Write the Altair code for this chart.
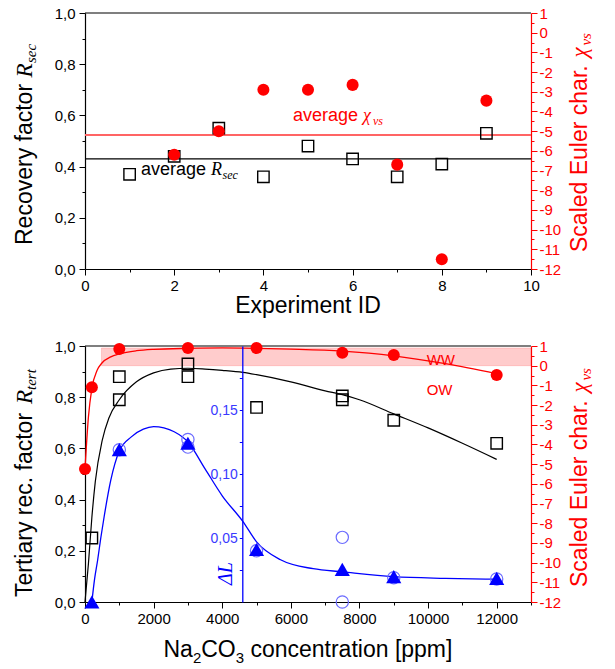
import altair as alt
import pandas as pd

SANS = "Liberation Sans"
SERIF = "Liberation Serif"
RED = "#ff0000"
BLUE = "#0000ff"
LBLUE = "#6b6bff"
W, H = 446, 256

# ---------------- top panel data ----------------
exp_id = [1, 2, 3, 4, 5, 6, 7, 8, 9]
r_sec = [0.37, 0.44, 0.55, 0.36, 0.48, 0.43, 0.36, 0.41, 0.53]
chi_id = [2, 3, 4, 5, 6, 7, 8, 9]
chi_sec = [-6.2, -5.0, -2.9, -2.9, -2.65, -6.7, -11.5, -3.45]
avg_r_sec = [0.43]
avg_chi = [-5.2]

# ---------------- bottom panel data ----------------
sq_ppm = [200, 1000, 1000, 3000, 3000, 5000, 7500, 7500, 9000, 12000]
r_tert = [0.25, 0.79, 0.88, 0.88, 0.93, 0.76, 0.805, 0.79, 0.71, 0.62]
chi_ppm = [0, 200, 1000, 3000, 5000, 7500, 9000, 12000]
chi_tert = [-5.25, -1.1, 0.85, 0.9, 0.9, 0.66, 0.54, -0.47]
tri_ppm = [200, 1000, 3000, 5000, 7500, 9000, 12000]
dl_tri = [0.0, 0.119, 0.124, 0.041, 0.0255, 0.0198, 0.0185]
circ_ppm = [1000, 3000, 3000, 5000, 7500, 7500, 9000, 12000]
dl_circ = [0.119, 0.127, 0.121, 0.040, 0.0505, 0.0, 0.019, 0.018]

fit_red_ppm = [0, 100, 200, 350, 500, 750, 1000, 1500, 2000, 3000, 4000, 5000,
               6000, 7500, 9000, 10500, 12000]
fit_red_chi = [-5.25, -2.6, -1.15, -0.25, 0.15, 0.45, 0.6, 0.76, 0.83, 0.88, 0.9,
               0.88, 0.84, 0.74, 0.5, 0.1, -0.4]
fit_black_ppm = [0, 100, 200, 300, 500, 700, 1000, 1500, 2000, 2500, 3000, 3500,
                 4000, 4600, 5000, 6000, 7000, 7500, 8000, 9000, 10000, 11000, 12000]
fit_black_r = [0.0, 0.15, 0.33, 0.47, 0.63, 0.72, 0.79, 0.86, 0.895, 0.91, 0.913,
               0.91, 0.905, 0.897, 0.888, 0.86, 0.825, 0.81, 0.79, 0.735, 0.68, 0.62, 0.557]
fit_blue_ppm = [200, 280, 370, 460, 560, 750, 1000, 1350, 1700, 2000, 2300, 2600,
                3000, 3500, 4000, 4600, 5000, 5700, 6650, 7500, 9000, 10500, 12000]
fit_blue_dl = [0.0, 0.018, 0.033, 0.05, 0.067, 0.095, 0.118, 0.129, 0.135, 0.137,
               0.136, 0.133, 0.125, 0.104, 0.083, 0.063, 0.047, 0.033, 0.026, 0.0236,
               0.0198, 0.0185, 0.0178]
band_ppm = [480, 13000]
band_chi = [0.0, 0.9]

# tick values
x_top_ticks = [0, 1, 2, 3, 4, 5, 6, 7, 8, 9, 10]
x_bot_ticks = [0, 1000, 2000, 3000, 4000, 5000, 6000, 7000, 8000, 9000, 10000,
               11000, 12000, 13000]
r_ticks = [0.0, 0.1, 0.2, 0.3, 0.4, 0.5, 0.6, 0.7, 0.8, 0.9, 1.0]
chi_ticks = [v / 2 for v in range(-24, 3)]
dl_ticks = [0.025, 0.05, 0.075, 0.1, 0.125, 0.15, 0.175]

DUMMY = pd.DataFrame({"k": [0]})


def sc(d):
    return alt.Scale(domain=d, nice=False, zero=False)


def tcond(test, major=6, minor=3):
    return {"condition": {"test": test, "value": major}, "value": minor}


def ax(**kw):
    d = dict(title=None, grid=False, labelFont=SANS, labelFontSize=15,
             labelOverlap=False, labelFlush=False, tickWidth=1, domainWidth=1.2)
    d.update(kw)
    return alt.Axis(**d)


LEFT_EXPR = ("round(datum.value*10) % 2 == 0 ? "
             "replace(format(datum.value, '.1f'), '.', ',') : ''")
RIGHT_EXPR = "datum.value == floor(datum.value) ? '' + datum.value : ''"

ax_left = ax(orient="left", values=r_ticks, labelExpr=LEFT_EXPR,
             tickSize=tcond("round(datum.value*10) % 2 == 0"), labelPadding=4,
             domainColor="black", tickColor="black", labelColor="black")
ax_right = ax(orient="right", values=chi_ticks, labelExpr=RIGHT_EXPR,
              tickSize=tcond("datum.value == floor(datum.value)"), labelPadding=2,
              domainColor=RED, tickColor=RED, labelColor=RED)
ax_x_top = ax(orient="bottom", values=x_top_ticks,
              labelExpr="datum.value % 2 == 0 ? '' + datum.value : ''",
              tickSize=tcond("datum.value % 2 == 0"), labelPadding=3,
              domainColor="black", tickColor="black", labelColor="black")
ax_x_bot = ax(orient="bottom", values=x_bot_ticks,
              labelExpr="datum.value % 2000 == 0 ? '' + datum.value : ''",
              tickSize=tcond("datum.value % 2000 == 0"), labelPadding=3,
              domainColor="black", tickColor="black", labelColor="black")
ax_dl = ax(orient="left", values=dl_ticks, offset=-157.3,
           labelExpr=("round(datum.value*40) % 2 == 0 ? "
                      "replace(format(datum.value, '.2f'), '.', ',') : ''"),
           tickSize=3, labelPadding=2, labelFontSize=14, domainColor=BLUE,
           tickColor=BLUE, labelColor="#3a3aff", domainWidth=1.3, zindex=1)


def txt(s, x, y, size, color, font=SANS, style="normal", angle=0,
        align="left", baseline="alphabetic"):
    kw = dict(text=s, font=font, fontSize=size, fontStyle=style, color=color,
              align=align, baseline=baseline)
    if angle:
        kw["angle"] = angle
    return alt.Chart(DUMMY).mark_text(**kw).encode(x=alt.value(x), y=alt.value(y))


def anchor(y1, y2):
    return alt.Chart(DUMMY).mark_rule(opacity=0, strokeOpacity=0).encode(
        x=alt.value(-85), x2=alt.value(-85), y=alt.value(y1), y2=alt.value(y2))


def border():
    return alt.Chart(DUMMY).mark_rule(color="black", strokeWidth=1.2).encode(
        x=alt.value(0), x2=alt.value(W), y=alt.value(0))


# ================= TOP PANEL =================
XT = [0, 10]
RD = [0, 1]
CD = [-12, 1]

df_sq = pd.DataFrame({"id": exp_id, "r": r_sec})
df_ci = pd.DataFrame({"id": chi_id, "c": chi_sec})

t_avg_r = alt.Chart(pd.DataFrame({"v": avg_r_sec})).mark_rule(
    color="black", strokeWidth=1.2).encode(
    y=alt.Y("v:Q", scale=sc(RD), axis=ax_left))
t_avg_c = alt.Chart(pd.DataFrame({"v": avg_chi})).mark_rule(
    color="#ff6464", strokeWidth=2).encode(
    y=alt.Y("v:Q", scale=sc(CD), axis=ax_right))
t_sq = alt.Chart(df_sq).mark_point(shape="square", filled=False, size=130,
                                   color="black", strokeWidth=1.4, opacity=1).encode(
    x=alt.X("id:Q", scale=sc(XT), axis=ax_x_top),
    y=alt.Y("r:Q", scale=sc(RD), axis=None))
t_ci = alt.Chart(df_ci).mark_circle(size=145, color=RED, opacity=1).encode(
    x=alt.X("id:Q", scale=sc(XT), axis=None),
    y=alt.Y("c:Q", scale=sc(CD), axis=None))

top_texts = [
    txt("Recovery factor", -53.5, 232, 23, "black", angle=270),
    txt("R", -53.5, 64.6, 23, "black", SERIF, "italic", 270),
    txt("sec", -49, 50, 15, "black", SERIF, "italic", 270),
    txt("Scaled Euler char.", 501.5, 239, 23, RED, angle=270),
    txt("χ", 501.5, 44.6, 23, RED, SERIF, "italic", 270),
    txt("vs", 506, 32.6, 15, RED, SERIF, "italic", 270),
    txt("Experiment ID", 223, 300, 23, "black", align="center"),
    txt("average", 208, 107.7, 18, RED),
    txt("χ", 278, 107.7, 18, RED, SERIF, "italic"),
    txt("vs", 288, 112, 12, RED, SERIF, "italic"),
    txt("average", 56, 162, 18, "black"),
    txt("R", 126, 162, 18, "black", SERIF, "italic"),
    txt("sec", 137.5, 166, 12, "black", SERIF, "italic"),
]

top = alt.layer(t_avg_r, t_avg_c, border(), t_sq, t_ci, *top_texts,
                anchor(-13, 309)).resolve_scale(
    x="independent", y="independent").properties(width=W, height=H)

# ================= BOTTOM PANEL =================
XB = [0, 13000]
DLD = [0, 0.2]

b_band = alt.Chart(pd.DataFrame({"x0": [band_ppm[0]], "x1": [band_ppm[1]],
                                 "c0": [band_chi[0]], "c1": [band_chi[1]]})).mark_rect(
    color=RED, fillOpacity=0.2, stroke=RED, strokeOpacity=0.15, strokeWidth=1).encode(
    x=alt.X("x0:Q", scale=sc(XB), axis=None), x2="x1:Q",
    y=alt.Y("c0:Q", scale=sc(CD), axis=None), y2="c1:Q")
b_fit_red = alt.Chart(pd.DataFrame({"x": fit_red_ppm, "y": fit_red_chi})).mark_line(
    color=RED, strokeWidth=1.3, interpolate="monotone").encode(
    x=alt.X("x:Q", scale=sc(XB), axis=None),
    y=alt.Y("y:Q", scale=sc(CD), axis=ax_right))
b_fit_black = alt.Chart(pd.DataFrame({"x": fit_black_ppm, "y": fit_black_r})).mark_line(
    color="black", strokeWidth=1.2, interpolate="monotone").encode(
    x=alt.X("x:Q", scale=sc(XB), axis=ax_x_bot),
    y=alt.Y("y:Q", scale=sc(RD), axis=ax_left))
b_fit_blue = alt.Chart(pd.DataFrame({"x": fit_blue_ppm, "y": fit_blue_dl})).mark_line(
    color=BLUE, strokeWidth=1.3, interpolate="monotone").encode(
    x=alt.X("x:Q", scale=sc(XB), axis=None),
    y=alt.Y("y:Q", scale=sc(DLD), axis=ax_dl))
b_sq = alt.Chart(pd.DataFrame({"x": sq_ppm, "y": r_tert})).mark_point(
    shape="square", filled=False, size=130, color="black", strokeWidth=1.4,
    opacity=1).encode(
    x=alt.X("x:Q", scale=sc(XB), axis=None),
    y=alt.Y("y:Q", scale=sc(RD), axis=None))
b_oc = alt.Chart(pd.DataFrame({"x": circ_ppm, "y": dl_circ})).mark_point(
    shape="circle", filled=False, size=150, color=LBLUE, strokeWidth=1.2,
    opacity=1).encode(
    x=alt.X("x:Q", scale=sc(XB), axis=None),
    y=alt.Y("y:Q", scale=sc(DLD), axis=None))
b_tri = alt.Chart(pd.DataFrame({"x": tri_ppm, "y": dl_tri})).mark_point(
    shape="triangle-up", filled=True, size=230, color=BLUE, opacity=1).encode(
    x=alt.X("x:Q", scale=sc(XB), axis=None),
    y=alt.Y("y:Q", scale=sc(DLD), axis=None))
b_ci = alt.Chart(pd.DataFrame({"x": chi_ppm, "y": chi_tert})).mark_circle(
    size=145, color=RED, opacity=1).encode(
    x=alt.X("x:Q", scale=sc(XB), axis=None),
    y=alt.Y("y:Q", scale=sc(CD), axis=None))

NB = 310.7
bot_texts = [
    txt("Tertiary rec. factor", -53.5, 251, 23, "black", angle=270),
    txt("R", -53.5, 58, 23, "black", SERIF, "italic", 270),
    txt("tert", -49, 44, 15, "black", SERIF, "italic", 270),
    txt("Scaled Euler char.", 501.5, 241, 23, RED, angle=270),
    txt("χ", 501.5, 46.6, 23, RED, SERIF, "italic", 270),
    txt("vs", 506, 34.6, 15, RED, SERIF, "italic", 270),
    txt("Na", 78.5, NB, 23, "black"),
    txt("2", 107.9, NB + 6, 15, "black"),
    txt("CO", 116.2, NB, 23, "black"),
    txt("3", 150.7, NB + 6, 15, "black"),
    txt("concentration [ppm]", 165.4, NB, 23, "black"),
    txt("WW", 341.7, 19, 15, RED),
    txt("OW", 341.7, 49, 15, RED),
    txt("ΔL", 141, 227.5, 20, BLUE, SERIF, "italic", 270, "center", "middle"),
]

bottom = alt.layer(b_band, b_fit_red, b_fit_black, b_fit_blue, border(), b_sq,
                   b_oc, b_tri, b_ci, *bot_texts, anchor(-24, -24)).resolve_scale(
    x="independent", y="independent").properties(width=W, height=H)

chart = alt.vconcat(top, bottom, spacing=0).properties(padding=0).configure_view(
    stroke=None)

chart.save("out.html", embed_options={"renderer": "svg", "actions": False})
